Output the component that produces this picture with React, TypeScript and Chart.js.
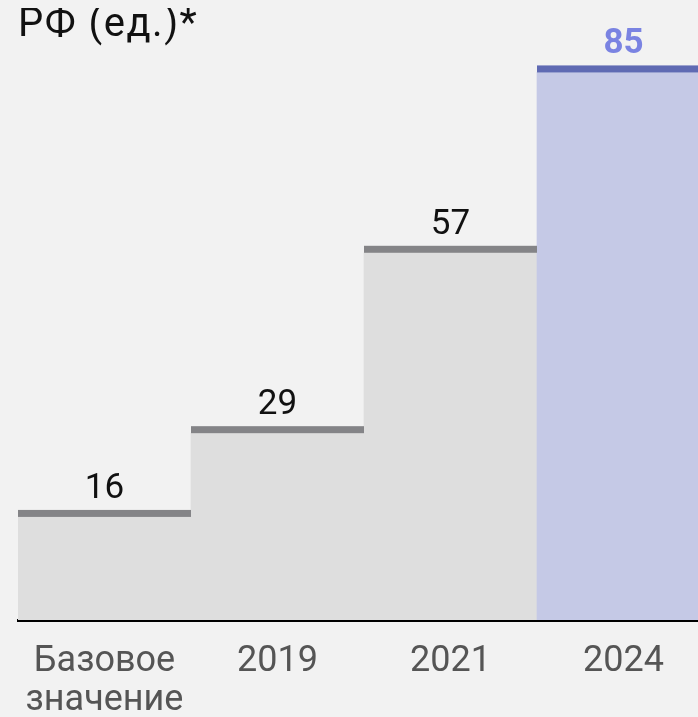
import React, { useEffect, useRef } from "react";
import { Chart, registerables } from "chart.js";

Chart.register(...registerables);

const categories: (string | string[])[] = [["Базовое", "значение"], "2019", "2021", "2024"];
const values: number[] = [16, 29, 57, 85];
const titleText = "РФ (ед.)*";

const fillColors = ["#dedede", "#dedede", "#dedede", "#c5c9e6"];
const lineColors = ["#848487", "#848487", "#848487", "#5f6ab3"];
const labelColors = ["#111111", "#111111", "#111111", "#7a83e2"];
const labelWeights = ["normal", "normal", "normal", "bold"];

const topLinePlugin = {
  id: "topLine",
  afterDatasetsDraw(chart: any) {
    const ctx = chart.ctx;
    const meta = chart.getDatasetMeta(0);
    ctx.save();
    meta.data.forEach((bar: any, i: number) => {
      const { x, y, width } = bar.getProps(["x", "y", "width"], true);
      const lh = 7;
      ctx.fillStyle = lineColors[i];
      ctx.fillRect(x - width / 2, y - lh, width, lh);
      ctx.fillStyle = labelColors[i];
      ctx.font = `${labelWeights[i]} 35px Roboto`;
      ctx.textAlign = "center";
      ctx.textBaseline = "alphabetic";
      ctx.fillText(String(values[i]), x, y - lh - 12);
    });
    ctx.restore();
  },
};

export default function App() {
  const ref = useRef<HTMLCanvasElement | null>(null);
  useEffect(() => {
    document.documentElement.style.overflow = "hidden";
    document.documentElement.style.background = "#f2f2f2";
    document.body.style.background = "#f2f2f2";
    document.body.style.marginRight = "0px";
    document.body.style.marginBottom = "0px";
    if (!ref.current) return;
    const chart = new Chart(ref.current, {
      type: "bar",
      data: {
        labels: categories,
        datasets: [
          {
            data: values,
            backgroundColor: fillColors,
            borderWidth: 0,
            categoryPercentage: 1,
            barPercentage: 1,
          },
        ],
      },
      options: {
        responsive: false,
        animation: false,
        devicePixelRatio: 1,
        layout: { padding: { left: 10, right: 10, top: 0, bottom: 0 } },
        plugins: { legend: { display: false }, tooltip: { enabled: false } },
        scales: {
          y: { display: false, min: 0, max: 95 },
          x: {
            grid: { display: false, drawTicks: false },
            border: { display: true, color: "#000000", width: 3 },
            ticks: {
              color: "#555555",
              font: { family: "Roboto", size: 36, lineHeight: 1.1 },
              padding: 22,
              maxRotation: 0,
              autoSkip: false,
            },
            afterFit: (scale: any) => {
              scale.height = 97;
              scale.paddingLeft = 0;
              scale.paddingRight = 0;
            },
          },
        },
      },
      plugins: [topLinePlugin],
    });
    return () => chart.destroy();
  }, []);

  return (
    <div style={{ position: "relative", width: 690, height: 709, overflow: "hidden", background: "#f2f2f2" }}>
      <canvas ref={ref} width={712} height={709} style={{ display: "block" }} />
      <div
        style={{
          position: "absolute",
          left: 10,
          top: -5,
          fontFamily: "Roboto",
          fontSize: 40,
          letterSpacing: 1.5,
          lineHeight: 1,
          color: "#111111",
          whiteSpace: "nowrap",
        }}
      >
        {titleText}
      </div>
    </div>
  );
}
